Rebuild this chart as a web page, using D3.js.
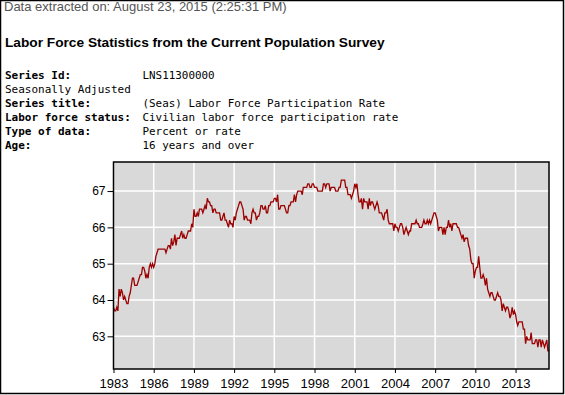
<!DOCTYPE html>
<html>
<head>
<meta charset="utf-8">
<script src="https://cdn.jsdelivr.net/npm/d3@7"></script>
<style>
  body { margin: 0; background: #fff; }
  svg { display: block; }
</style>
</head>
<body>
<svg id="chart" width="565" height="395"></svg>
<script>
// Monthly labor force participation rate, Jan 1983 - Jul 2015
const rates1983to1990 = [
  63.8, 63.7, 63.7, 63.8, 63.7, 64.3, 64.1, 64.3, 64.2, 64.0, 64.1, 64.0,
  63.9, 63.9, 64.1, 64.2, 64.4, 64.6, 64.6, 64.4, 64.4, 64.4, 64.5, 64.6,
  64.7, 64.7, 64.9, 64.9, 64.8, 64.6, 64.7, 64.6, 64.9, 65.0, 64.9, 65.0,
  64.9, 65.0, 65.2, 65.3, 65.4, 65.4, 65.4, 65.4, 65.4, 65.4, 65.4, 65.3,
  65.4, 65.5, 65.5, 65.4, 65.7, 65.5, 65.6, 65.8, 65.5, 65.7, 65.7, 65.7,
  65.8, 65.9, 65.7, 65.8, 65.7, 65.7, 65.8, 65.9, 65.9, 65.9, 66.1, 66.0,
  66.5, 66.3, 66.3, 66.4, 66.3, 66.5, 66.5, 66.5, 66.4, 66.5, 66.6, 66.5
];
const rates1990to1999 = [
  66.8, 66.7, 66.7, 66.6, 66.6, 66.4, 66.5, 66.5, 66.4, 66.4, 66.4, 66.4,
  66.2, 66.2, 66.3, 66.4, 66.2, 66.2, 66.1, 66.0, 66.2, 66.1, 66.1, 66.0,
  66.3, 66.2, 66.4, 66.5, 66.6, 66.7, 66.7, 66.6, 66.5, 66.2, 66.3, 66.3,
  66.2, 66.2, 66.2, 66.1, 66.4, 66.5, 66.4, 66.4, 66.2, 66.3, 66.3, 66.4,
  66.6, 66.6, 66.5, 66.5, 66.6, 66.4, 66.4, 66.6, 66.6, 66.7, 66.7, 66.7,
  66.8, 66.8, 66.7, 66.9, 66.5, 66.5, 66.6, 66.6, 66.6, 66.6, 66.5, 66.4,
  66.4, 66.6, 66.6, 66.7, 66.7, 66.7, 66.9, 66.7, 66.9, 67.0, 67.0, 67.0,
  67.0, 66.9, 67.1, 67.1, 67.1, 67.1, 67.2, 67.2, 67.1, 67.1, 67.2, 67.2,
  67.1, 67.1, 67.1, 67.0, 67.0, 67.0, 67.0, 67.0, 67.2, 67.2, 67.1, 67.2,
  67.2, 67.2, 67.0, 67.1, 67.1, 67.1, 67.1, 67.0, 67.0, 67.0, 67.1, 67.1
];
const rates2000to2008 = [
  67.3, 67.3, 67.3, 67.3, 67.1, 67.1, 66.9, 66.9, 66.9, 66.8, 66.9, 67.0,
  67.2, 67.1, 67.2, 66.9, 66.7, 66.7, 66.8, 66.5, 66.8, 66.7, 66.7, 66.7,
  66.5, 66.8, 66.6, 66.7, 66.7, 66.6, 66.5, 66.6, 66.7, 66.6, 66.4, 66.4,
  66.4, 66.3, 66.2, 66.4, 66.4, 66.5, 66.2, 66.1, 66.1, 66.1, 66.1, 65.9,
  66.1, 66.0, 66.0, 65.9, 66.0, 66.1, 66.1, 66.0, 65.8, 65.9, 66.0, 65.9,
  65.8, 65.9, 65.9, 66.1, 66.1, 66.1, 66.1, 66.2, 66.1, 66.1, 66.0, 66.0,
  66.0, 66.1, 66.2, 66.1, 66.1, 66.2, 66.1, 66.2, 66.1, 66.2, 66.3, 66.4,
  66.4, 66.3, 66.2, 65.9, 66.0, 66.0, 66.0, 65.8, 66.0, 65.8, 66.0, 66.0,
  66.2, 66.0, 66.1, 65.9, 66.1, 66.1, 66.1, 66.1, 66.0, 66.0, 65.9, 65.8
];
const rates2009to2015 = [
  65.7, 65.8, 65.6, 65.7, 65.7, 65.7, 65.5, 65.4, 65.1, 65.0, 65.0, 64.6,
  64.8, 64.9, 64.9, 65.2, 64.9, 64.6, 64.6, 64.7, 64.6, 64.4, 64.6, 64.3,
  64.2, 64.1, 64.2, 64.2, 64.1, 64.0, 64.0, 64.1, 64.2, 64.1, 64.1, 64.0,
  63.7, 63.9, 63.8, 63.7, 63.8, 63.8, 63.7, 63.5, 63.6, 63.8, 63.6, 63.7,
  63.6, 63.4, 63.3, 63.4, 63.4, 63.4, 63.4, 63.2, 63.2, 62.8, 63.0, 62.9,
  62.9, 62.9, 63.1, 62.8, 62.8, 62.8, 62.9, 62.9, 62.7, 62.9, 62.9, 62.7,
  62.9, 62.8, 62.7, 62.8, 62.9, 62.6, 62.6
];

const yTicks = [63, 64, 65, 66, 67];
const xTickYears = [1983, 1986, 1989, 1992, 1995, 1998, 2001, 2004, 2007, 2010, 2013];

const infoLabels = ["Series Id:", "Seasonally Adjusted", "Series title:", "Labor force status:", "Type of data:", "Age:"];
const infoValues = ["LNS11300000", "", "(Seas) Labor Force Participation Rate", "Civilian labor force participation rate", "Percent or rate", "16 years and over"];

const values = [].concat(rates1983to1990, rates1990to1999, rates2000to2008, rates2009to2015);
const data = values.map((v, i) => ({ date: new Date(1983, i, 1), value: v }));

const svg = d3.select("#chart");

// outer frame
svg.append("rect")
  .attr("x", 0.5).attr("y", 0.5)
  .attr("width", 563).attr("height", 393)
  .attr("fill", "none")
  .attr("stroke", "#000")
  .attr("stroke-width", 1.5);

svg.append("text")
  .attr("x", 4).attr("y", 11)
  .attr("font-family", "Arial, 'Liberation Sans', sans-serif")
  .attr("font-size", 13)
  .attr("fill", "#555")
  .text("Data extracted on: August 23, 2015 (2:25:31 PM)");

svg.append("text")
  .attr("x", 5).attr("y", 47)
  .attr("font-family", "Arial, 'Liberation Sans', sans-serif")
  .attr("font-size", 13.7)
  .attr("font-weight", "bold")
  .attr("fill", "#000")
  .text("Labor Force Statistics from the Current Population Survey");

// series info block
const mono = "'DejaVu Sans Mono', monospace";
infoLabels.forEach((lab, i) => {
  svg.append("text")
    .attr("x", 5).attr("y", 79 + i * 14)
    .attr("font-family", mono)
    .attr("font-size", 11)
    .attr("font-weight", i === 1 ? "normal" : "bold")
    .text(lab);
  if (infoValues[i]) {
    svg.append("text")
      .attr("x", 142.5).attr("y", 79 + i * 14)
      .attr("font-family", mono)
      .attr("font-size", 10.9)
      .text(infoValues[i]);
  }
});

// plot area
const plotLeft = 113.5, plotRight = 549, plotTop = 162, plotBottom = 369;

const x = d3.scaleTime()
  .domain([new Date(1983, 0, 1), new Date(2015, 6, 1)])
  .range([plotLeft, plotRight]);

const y = d3.scaleLinear()
  .domain([62.1, 67.8])
  .range([plotBottom, plotTop]);

svg.append("rect")
  .attr("x", plotLeft).attr("y", plotTop)
  .attr("width", plotRight - plotLeft).attr("height", plotBottom - plotTop)
  .attr("fill", "#d9d9d9");

// grid
svg.append("g")
  .selectAll("line")
  .data(yTicks)
  .join("line")
  .attr("x1", plotLeft).attr("x2", plotRight)
  .attr("y1", d => y(d)).attr("y2", d => y(d))
  .attr("stroke", "#fff")
  .attr("stroke-width", 1.5);

svg.append("g")
  .selectAll("line")
  .data(xTickYears)
  .join("line")
  .attr("x1", d => x(new Date(d, 0, 1))).attr("x2", d => x(new Date(d, 0, 1)))
  .attr("y1", plotTop).attr("y2", plotBottom)
  .attr("stroke", "#fff")
  .attr("stroke-width", 1.5);

// series line
const line = d3.line()
  .x(d => x(d.date))
  .y(d => y(d.value));

svg.append("path")
  .datum(data)
  .attr("d", line)
  .attr("fill", "none")
  .attr("stroke", "#9c0000")
  .attr("stroke-width", 1.3);

// frame of plot
svg.append("rect")
  .attr("x", plotLeft).attr("y", plotTop)
  .attr("width", plotRight - plotLeft).attr("height", plotBottom - plotTop)
  .attr("fill", "none")
  .attr("stroke", "#000")
  .attr("stroke-width", 1.5);

// axes
const xAxis = d3.axisBottom(x)
  .tickValues(xTickYears.map(d => new Date(d, 0, 1)))
  .tickFormat(d3.timeFormat("%Y"))
  .tickSize(4)
  .tickSizeOuter(0);

const yAxis = d3.axisLeft(y)
  .tickValues(yTicks)
  .tickFormat(d3.format("d"))
  .tickSize(6)
  .tickSizeOuter(0);

const gx = svg.append("g")
  .attr("transform", `translate(0,${plotBottom})`)
  .call(xAxis);
gx.select(".domain").remove();
gx.selectAll("text")
  .attr("font-family", "Arial, 'Liberation Sans', sans-serif")
  .attr("font-size", 13)
  .attr("fill", "#000")
  .attr("dy", "0.95em");

const gy = svg.append("g")
  .attr("transform", `translate(${plotLeft},0)`)
  .call(yAxis);
gy.select(".domain").remove();
gy.selectAll("text")
  .attr("font-family", "Arial, 'Liberation Sans', sans-serif")
  .attr("font-size", 12)
  .attr("fill", "#000")
  .attr("x", -8);
</script>
</body>
</html>
